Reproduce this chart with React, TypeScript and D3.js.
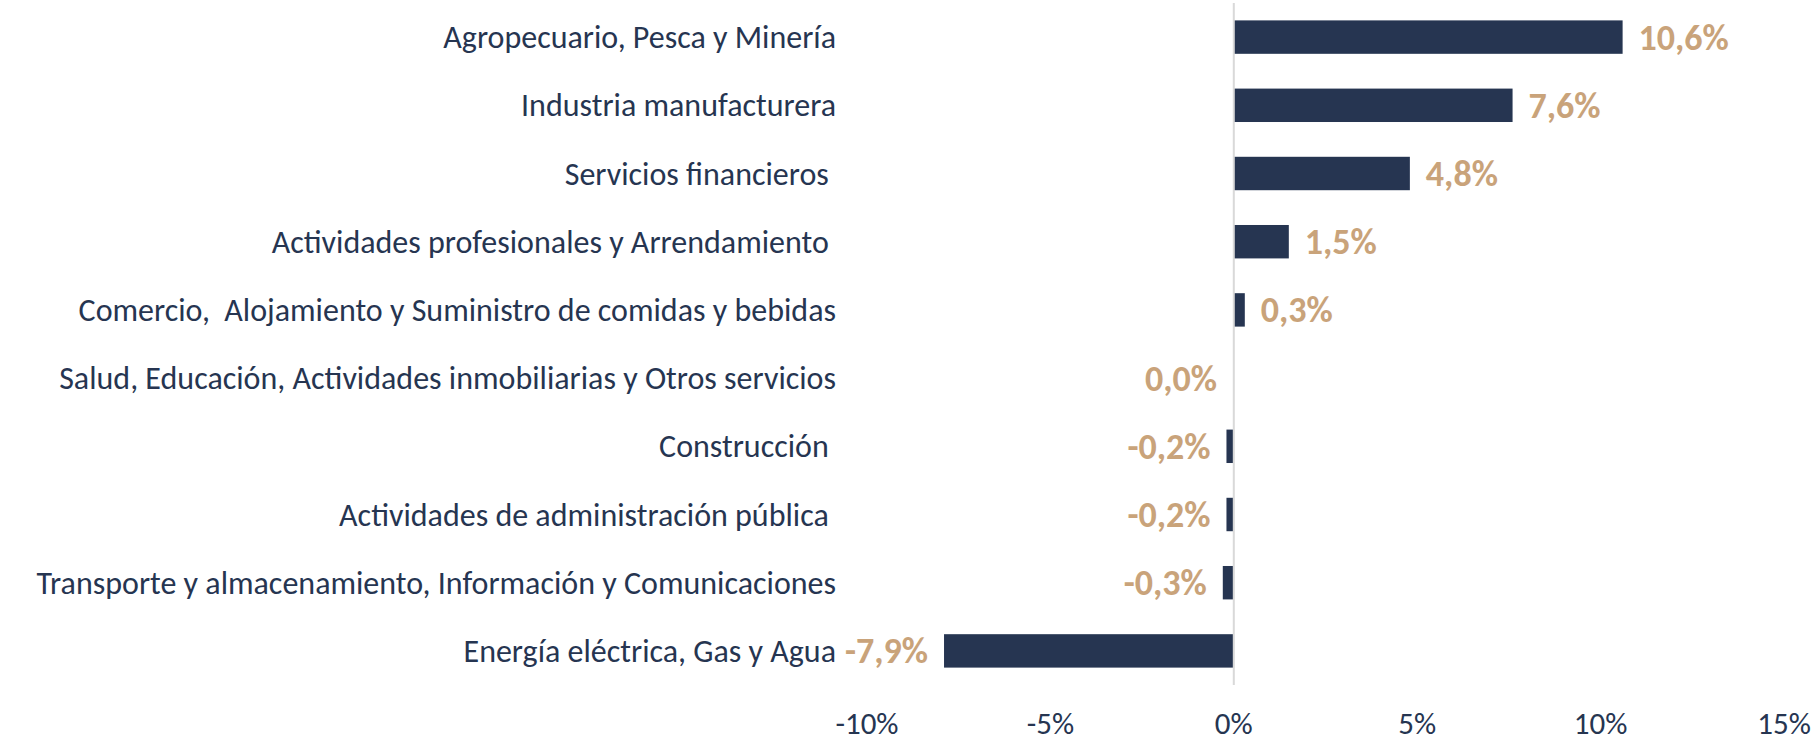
import React from 'react'
import * as d3 from 'd3'

const categories = [
  'Agropecuario, Pesca y Minería',
  'Industria manufacturera',
  'Servicios financieros ',
  'Actividades profesionales y Arrendamiento ',
  'Comercio,  Alojamiento y Suministro de comidas y bebidas',
  'Salud, Educación, Actividades inmobiliarias y Otros servicios',
  'Construcción ',
  'Actividades de administración pública ',
  'Transporte y almacenamiento, Información y Comunicaciones',
  'Energía eléctrica, Gas y Agua',
]
const values = [10.6, 7.6, 4.8, 1.5, 0.3, -0.02, -0.2, -0.2, -0.3, -7.9]
const xTicks = [-10, -5, 0, 5, 10, 15]

const W = 1817
const H = 742
const margin = { top: 3, right: 33, bottom: 57, left: 867 }

const navy = '#263551'
const tan = '#C9A37A'
const font = 'Carlito, Calibri, Lato, sans-serif'

const es = d3.formatLocale({
  decimal: ',',
  thousands: '.',
  grouping: [3],
  currency: ['', ' €'],
  minus: '-',
})
const fmtTick = es.format('.0%')
const fmtLabel = es.format('.1%')

export default function App() {
  const x = d3
    .scaleLinear()
    .domain([xTicks[0], xTicks[xTicks.length - 1]])
    .range([margin.left, W - margin.right])
  const y = d3
    .scaleBand()
    .domain(categories)
    .range([margin.top, H - margin.bottom])
    .paddingInner(0.51)
    .paddingOuter(0.255)

  const bw = y.bandwidth()
  const zero = x(0)

  return (
    <svg
      width={W}
      height={H}
      style={{ position: 'absolute', left: 0, top: 0, background: '#fff' }}
    >
      {/* bars */}
      {categories.map((c, i) => {
        const v = values[i]
        return (
          <rect
            key={c}
            x={Math.min(x(v), zero)}
            y={y(c)}
            width={Math.abs(x(v) - zero)}
            height={bw}
            fill={navy}
          />
        )
      })}

      {/* zero line */}
      <line
        x1={zero}
        x2={zero}
        y1={margin.top}
        y2={H - margin.bottom}
        stroke="#D9D9D9"
        strokeWidth={2}
      />

      {/* category labels */}
      {categories.map((c) => (
        <text
          key={c}
          x={836}
          y={y(c) + bw / 2 + 11}
          textAnchor="end"
          fontFamily={font}
          fontSize={32}
          fill={navy}
          style={{ whiteSpace: 'pre' }}
        >
          {c}
        </text>
      ))}

      {/* data labels */}
      {categories.map((c, i) => {
        const v = values[i]
        const pos = v >= 0
        return (
          <text
            key={c}
            x={pos ? x(v) + 16 : x(v) - 16}
            y={y(c) + bw / 2 + 12.5}
            textAnchor={pos ? 'start' : 'end'}
            fontFamily={font}
            fontWeight="bold"
            fontSize={36}
            fill={tan}
          >
            {fmtLabel(v / 100)}
          </text>
        )
      })}

      {/* x axis tick labels */}
      {xTicks.map((t) => (
        <text
          key={t}
          x={x(t)}
          y={734}
          textAnchor="middle"
          fontFamily={font}
          fontSize={31}
          fill={navy}
        >
          {fmtTick(t / 100)}
        </text>
      ))}
    </svg>
  )
}
